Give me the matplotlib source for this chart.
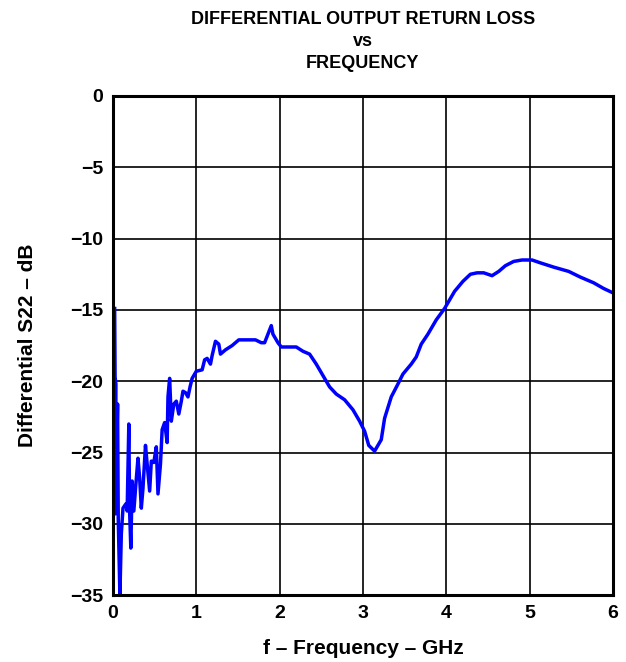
import matplotlib
matplotlib.use("Agg")
import matplotlib.pyplot as plt
import numpy as np

plt.rcParams['font.family'] = ['Liberation Sans', 'DejaVu Sans']

# frequency in GHz, differential S22 in dB
freq = [0.02, 0.025, 0.035, 0.03, 0.055, 0.063, 0.083, 0.10, 0.12, 0.155, 0.17,
        0.19, 0.20, 0.214, 0.23, 0.25, 0.275, 0.30, 0.32, 0.34, 0.36, 0.39,
        0.41, 0.44, 0.46, 0.49, 0.52, 0.54, 0.57, 0.59, 0.62, 0.65, 0.66,
        0.68, 0.70, 0.73, 0.76, 0.79, 0.82, 0.84, 0.87, 0.90, 0.925, 0.95,
        1.0, 1.07, 1.10, 1.13, 1.17, 1.19, 1.23, 1.27, 1.29, 1.35, 1.43,
        1.51, 1.61, 1.71, 1.78, 1.82, 1.86, 1.90, 1.92, 1.98, 2.02, 2.12,
        2.20, 2.28, 2.36, 2.44, 2.52, 2.60, 2.68, 2.78, 2.88, 2.96, 3.02,
        3.07, 3.14, 3.22, 3.26, 3.34, 3.42, 3.48, 3.58, 3.64, 3.70, 3.78,
        3.88, 3.98, 4.10, 4.20, 4.29, 4.37, 4.45, 4.55, 4.63, 4.71, 4.81,
        4.91, 5.03, 5.13, 5.29, 5.47, 5.61, 5.77, 5.89, 6.0]
s22 = [-14.9, -19.7, -20.2, -29.3, -21.6, -29.6, -35.0, -30.7, -28.9, -28.6, -29.1,
       -23.0, -29.2, -31.7, -27.0, -29.1, -27.2, -25.4, -26.8, -28.9, -27.5, -24.5,
       -25.8, -27.7, -25.6, -25.7, -24.6, -27.9, -25.8, -23.4, -22.9, -24.3, -21.1,
       -19.8, -22.8, -21.6, -21.4, -22.3, -21.4, -20.7, -20.8, -21.1, -20.4, -19.8,
       -19.3, -19.2, -18.5, -18.4, -18.8, -18.2, -17.2, -17.4, -18.1, -17.8, -17.5,
       -17.1, -17.1, -17.1, -17.3, -17.3, -16.7, -16.1, -16.7, -17.3, -17.6, -17.6,
       -17.6, -17.9, -18.1, -18.8, -19.6, -20.4, -20.9, -21.3, -22.0, -22.8, -23.5,
       -24.5, -24.9, -24.1, -22.6, -21.1, -20.2, -19.5, -18.8, -18.3, -17.4, -16.7,
       -15.7, -14.9, -13.7, -13.0, -12.5, -12.4, -12.4, -12.6, -12.3, -11.9, -11.6,
       -11.5, -11.5, -11.7, -12.0, -12.3, -12.7, -13.1, -13.5, -13.8]

xticks = [0, 1, 2, 3, 4, 5, 6]
yticks = [0, -5, -10, -15, -20, -25, -30, -35]
ytick_labels = ['0', '\u22125', '\u221210', '\u221215', '\u221220', '\u221225', '\u221230', '\u221235']

fig = plt.figure(figsize=(6.26, 6.62), dpi=100)
ax = fig.add_axes([0.1805, 0.101, 0.7985, 0.754])

ax.plot(freq, s22, color='#0000ff', linewidth=2.5, solid_joinstyle='round')

ax.set_xlim(0, 6)
ax.set_ylim(-35, 0)
ax.set_xticks(xticks)
ax.set_yticks(yticks)
ax.set_yticklabels(ytick_labels)
ax.tick_params(length=0, pad=7, labelsize=14)
for lbl in ax.get_xticklabels() + ax.get_yticklabels():
    lbl.set_fontweight('bold')

ax.grid(True, color='black', linewidth=1.2)
ax.set_axisbelow(True)
for sp in ax.spines.values():
    sp.set_linewidth(2.2)

ax.set_title('DIFFERENTIAL OUTPUT RETURN LOSS\nvs\nFREQUENCY',
             fontsize=13, fontweight='bold', pad=20, linespacing=1.4)
ax.set_xlabel('f \u2013 Frequency \u2013 GHz', fontsize=15, fontweight='bold', labelpad=12)
ax.set_ylabel('Differential S22 \u2013 dB', fontsize=15, fontweight='bold', labelpad=24)

fig.savefig('out.png', dpi=100)
